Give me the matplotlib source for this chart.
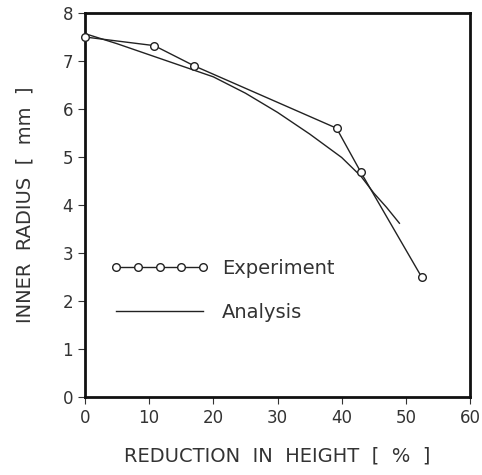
import matplotlib
matplotlib.use("Agg")
import matplotlib.pyplot as plt

# Data
exp_x = [0, 10.8, 17.0, 39.2, 43.0, 52.5]
exp_y = [7.5, 7.32, 6.9, 5.6, 4.68, 2.49]
ana_x = [0, 5, 10, 15, 20, 25, 30, 35, 40, 43, 45, 47, 49]
ana_y = [7.57, 7.36, 7.13, 6.9, 6.67, 6.33, 5.93, 5.48, 4.99, 4.6, 4.25, 3.95, 3.62]
x_ticks = [0, 10, 20, 30, 40, 50, 60]
y_ticks = [0, 1, 2, 3, 4, 5, 6, 7, 8]

plt.rcParams['font.family'] = ['DejaVu Sans']

fig = plt.figure(figsize=(4.82, 4.75), dpi=100)
ax = fig.add_axes([85/482, 78/475, 385/482, 384/475])

ax.plot(exp_x, exp_y, color='#222222', lw=1.0, marker='o', ms=5.5,
        mfc='white', mec='#222222', mew=1.0, label='Experiment', clip_on=False, zorder=3)
ax.plot(ana_x, ana_y, color='#222222', lw=1.0, label='Analysis', zorder=2)

ax.set_xlim(0, 60)
ax.set_ylim(0, 8)
ax.set_xticks(x_ticks)
ax.set_yticks(y_ticks)
ax.tick_params(direction='out', length=5, width=0.8, labelsize=12, colors='#333333')
for s in ['left', 'bottom', 'right', 'top']:
    ax.spines[s].set_linewidth(2.0)
    ax.spines[s].set_color('#111111')

ax.set_xlabel('REDUCTION  IN  HEIGHT  [  %  ]', fontsize=14, color='#333333', labelpad=14)
ax.set_ylabel('INNER  RADIUS  [  mm  ]', fontsize=14, color='#333333', labelpad=20)

leg = ax.legend(loc='upper left', bbox_to_anchor=(0.065, 0.36), frameon=False,
                numpoints=5, handlelength=5.1, handletextpad=0.65, labelspacing=1.3,
                borderpad=0, borderaxespad=0, fontsize=14)
for t in leg.get_texts():
    t.set_color('#333333')

fig.savefig('out.png', dpi=100)
